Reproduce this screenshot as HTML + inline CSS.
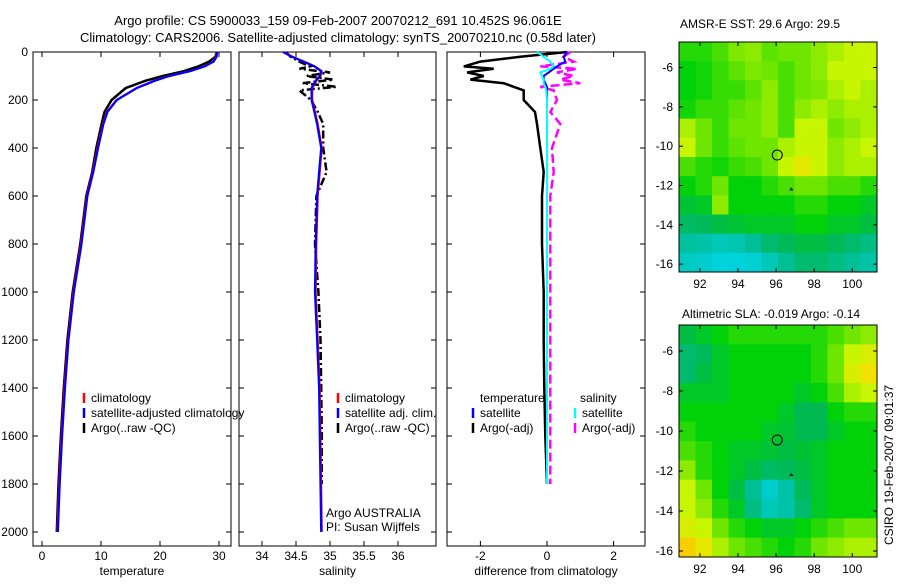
<!DOCTYPE html>
<html><head><meta charset="utf-8"><style>
body{margin:0;background:#fff;}
svg text{font-family:"Liberation Sans",sans-serif;font-size:12px;fill:#000;}
</style></head><body>
<svg id="c" width="900" height="580" xmlns="http://www.w3.org/2000/svg">
<text x="338" y="25" text-anchor="middle" style="font-size:13px">Argo profile: CS 5900033_159 09-Feb-2007 20070212_691 10.452S 96.061E</text>
<text x="338" y="42" text-anchor="middle" style="font-size:13px">Climatology: CARS2006. Satellite-adjusted climatology: synTS_20070210.nc (0.58d later)</text>
<text x="680" y="28">AMSR-E SST: 29.6 Argo: 29.5</text>
<text x="682" y="318">Altimetric SLA: -0.019 Argo: -0.14</text>
<text transform="translate(893,545) rotate(-90)">CSIRO 19-Feb-2007 09:01:37</text>
</svg>
<script>
// ---- data ----
const depth=[0,20,40,60,80,100,120,150,200,250,300,400,500,600,800,1000,1200,1400,1600,1800,2000];
const tempClim=[29.6,29.5,29.0,27.5,25.0,21.5,19.0,16.0,12.6,11.0,10.3,9.4,8.6,7.6,6.6,5.3,4.4,3.8,3.3,2.9,2.6];
const tempArgo=[29.6,29.4,28.3,26.5,24.0,20.5,17.5,14.2,11.8,10.6,10.1,9.2,8.5,7.5,6.5,5.2,4.3,3.7,3.2,2.8,2.5];
const salClim=[34.32,34.45,34.62,34.78,34.88,34.86,34.8,34.74,34.74,34.78,34.82,34.88,34.85,34.82,34.8,34.79,34.82,34.85,34.86,34.87,34.88];
const argoDepth=[0,20,40,60,70,85,100,115,130,145,160,200,250,300,400,500,600,800,1000,1200,1400,1600,1800];
const salArgo=[34.35,34.42,34.55,34.7,34.55,35.0,34.65,35.05,34.6,35.1,34.55,34.72,34.82,34.9,34.9,34.95,34.8,34.78,34.83,34.86,34.87,34.88,34.88];
const dTempArgo=[0.6,-0.8,-2.0,-2.5,-1.6,-2.4,-1.9,-2.3,-1.3,-1.0,-0.7,-0.7,-0.36,-0.3,-0.2,-0.1,-0.15,-0.15,-0.1,-0.1,-0.08,-0.05,0];
const dTempSat=[0.6,0.5,0.55,0.3,0.2,0.05,-0.1,-0.1,-0.05,0,0,0,0,0,0,0,0,0,0,0,0,0,0];
const dSalSat=[-0.3,-0.1,0.1,0.2,0.1,-0.2,-0.15,-0.1,-0.1,-0.05,-0.02,0,0,0,0,0,0,0,0,0,0,0,0];
const dSalArgo=[0.7,0.5,0.8,-0.2,0.9,0.3,0.8,0.4,1.0,-0.2,0.2,0.3,0.1,0.4,0.15,0.2,0.1,0.1,0.1,0.1,0.1,0.1,0.1];
const tempTicks=[0,10,20,30], salTicks=[34,34.5,35,35.5,36], diffTicks=[-2,0,2], depthTicks=[0,200,400,600,800,1000,1200,1400,1600,1800,2000];
const lonTicks=[92,94,96,98,100], lat1Ticks=[-6,-8,-10,-12,-14,-16], lat2Ticks=[-6,-8,-10,-12,-14,-16];
const sstField=[
[.62,.62,.64,.67,.68,.65,.66,.66,.68,.70,.72,.72],
[.60,.61,.63,.65,.67,.66,.64,.66,.68,.72,.72,.72],
[.60,.61,.63,.63,.65,.68,.64,.66,.67,.70,.72,.70],
[.61,.63,.63,.65,.66,.68,.64,.68,.70,.68,.70,.70],
[.70,.66,.63,.66,.66,.68,.64,.72,.72,.66,.68,.70],
[.72,.66,.63,.65,.66,.66,.70,.72,.72,.68,.70,.72],
[.64,.62,.61,.63,.64,.66,.72,.76,.72,.68,.70,.70],
[.60,.62,.66,.60,.60,.62,.64,.66,.66,.64,.64,.62],
[.57,.58,.68,.60,.60,.60,.60,.62,.62,.60,.60,.58],
[.53,.54,.56,.57,.58,.58,.58,.60,.60,.58,.58,.56],
[.47,.46,.44,.45,.48,.52,.54,.56,.56,.54,.52,.50],
[.43,.42,.40,.39,.41,.44,.48,.52,.52,.50,.48,.46]];
const slaField=[
[.56,.58,.60,.62,.62,.62,.62,.62,.62,.64,.66,.68],
[.52,.54,.58,.60,.60,.60,.60,.60,.62,.66,.72,.74],
[.52,.56,.58,.60,.60,.60,.60,.60,.62,.66,.74,.78],
[.58,.58,.58,.60,.60,.60,.60,.58,.60,.64,.70,.72],
[.60,.60,.60,.60,.60,.60,.58,.55,.55,.60,.62,.62],
[.62,.60,.60,.60,.60,.58,.57,.55,.55,.58,.60,.60],
[.64,.62,.60,.58,.58,.57,.56,.57,.58,.60,.60,.60],
[.68,.62,.60,.58,.56,.53,.54,.56,.58,.60,.60,.60],
[.72,.66,.60,.56,.48,.42,.46,.54,.58,.60,.60,.60],
[.72,.68,.62,.58,.50,.44,.46,.52,.58,.60,.60,.60],
[.74,.72,.66,.62,.60,.58,.58,.60,.62,.64,.66,.66],
[.80,.76,.70,.66,.64,.62,.60,.62,.66,.68,.70,.70]];
const argoLon=96.06, argoLat=-10.45;
// ---- helpers ----
const svg=document.getElementById('c');const NS='http://www.w3.org/2000/svg';
function mk(t,a,p){const e=document.createElementNS(NS,t);for(const k in a)e.setAttribute(k,a[k]);(p||svg).appendChild(e);return e;}
const yD=d=>52+d*0.24;
function panel(name,x0,x1,xs,ticks,lab,showY){
 const g=mk('g',{});
 mk('rect',{x:x0,y:52,width:x1-x0,height:494,fill:'none',stroke:'#000'},g);
 ticks.forEach(t=>{const x=xs(t);mk('line',{x1:x,x2:x,y1:546,y2:541,stroke:'#000'},g);mk('line',{x1:x,x2:x,y1:52,y2:57,stroke:'#000'},g);
  const tx=mk('text',{x:x,y:560,'text-anchor':'middle'},g);tx.textContent=String(t);});
 depthTicks.forEach(d=>{const y=yD(d);mk('line',{x1:x0,x2:x0+5,y1:y,y2:y,stroke:'#000'},g);mk('line',{x1:x1,x2:x1-5,y1:y,y2:y,stroke:'#000'},g);
  if(showY){const tx=mk('text',{x:x0-5,y:y+4,'text-anchor':'end'},g);tx.textContent=String(d);}});
 const l=mk('text',{x:(x0+x1)/2,y:575,'text-anchor':'middle'},g);l.textContent=lab;
 return g;}
function line(g,xs,vals,deps,color,w,dash,name){
 const pts=vals.map((v,i)=>xs(v).toFixed(1)+','+yD(deps[i]).toFixed(1)).join(' ');
 const p=mk('polyline',{points:pts,fill:'none',stroke:color,'stroke-width':w},g);
 if(dash)p.setAttribute('stroke-dasharray',dash);
 
 }
function legend(g,x,y,items){items.forEach((it,i)=>{const yy=y+i*15;mk('line',{x1:x,x2:x,y1:yy-9,y2:yy+1,stroke:it[1],'stroke-width':2.5},g);
 const t=mk('text',{x:x+7,y:yy},g);t.textContent=it[0];});}
// panel 1
const xT=v=>42+v*5.9;
const g1=panel('temperature-panel',33,231,xT,tempTicks,'temperature',true);
line(g1,xT,tempArgo,depth,'#000',2.5,null,'argo-temperature-line');
line(g1,xT,tempClim,depth,'#f00',2,null,'climatology-temperature-line');
line(g1,xT,tempClim.map(v=>v+0.1),depth,'#00f',2.2,null,'satellite-temperature-line');
legend(g1,84,402,[['climatology','#f00'],['satellite-adjusted climatology','#00f'],['Argo(..raw -QC)','#000']]);
// panel 2
const xS=v=>262+(v-34)*68;
const g2=panel('salinity-panel',239,436,xS,salTicks,'salinity',false);
line(g2,xS,salArgo,argoDepth,'#000',2.5,'8,3,2,3','argo-salinity-line');
line(g2,xS,salClim,depth,'#f00',2,null,'climatology-salinity-line');
line(g2,xS,salClim.map(v=>v-0.01),depth,'#00f',2.2,null,'satellite-salinity-line');
legend(g2,338,402,[['climatology','#f00'],['satellite adj. clim.','#00f'],['Argo(..raw -QC)','#000']]);
let t=mk('text',{x:326,y:517},g2);t.textContent='Argo AUSTRALIA';
t=mk('text',{x:326,y:531},g2);t.textContent='PI: Susan Wijffels';
// panel 3
const xDf=v=>547+v*33.3;
const g3=panel('difference-panel',447,645,xDf,diffTicks,'difference from climatology',false);
line(g3,xDf,dTempArgo,argoDepth,'#000',2.5,null,'argo-temperature-diff-line');
line(g3,xDf,dSalArgo,argoDepth,'#f0f',2.5,'9,4','argo-salinity-diff-line');
line(g3,xDf,dTempSat,argoDepth,'#00f',2,null,'satellite-temperature-diff-line');
line(g3,xDf,dSalSat,argoDepth,'#0ff',2,null,'satellite-salinity-diff-line');
t=mk('text',{x:480,y:402},g3);t.textContent='temperature';
t=mk('text',{x:580,y:402},g3);t.textContent='salinity';
legend(g3,473,417,[['satellite','#00f'],['Argo(-adj)','#000']]);
legend(g3,575,417,[['satellite','#0ff'],['Argo(-adj)','#f0f']]);
// maps
function cmap(v){const s=[[.40,0,210,220],[.48,0,190,150],[.55,0,185,80],[.6,0,210,10],[.66,110,230,0],[.72,200,245,0],[.78,245,225,0],[.84,250,170,0]];
 if(v<=s[0][0])return `rgb(${s[0][1]},${s[0][2]},${s[0][3]})`;
 for(let i=1;i<s.length;i++)if(v<=s[i][0]){const f=(v-s[i-1][0])/(s[i][0]-s[i-1][0]);const c=[1,2,3].map(k=>Math.round(s[i-1][k]+f*(s[i][k]-s[i-1][k])));return `rgb(${c})`;}
 const l=s[s.length-1];return `rgb(${l[1]},${l[2]},${l[3]})`;}
function map(name,field,y0,y1,latTop,latBot,ticks){
 const x0=679,x1=877,lonL=90.9,lonR=101.3;
 const xs=v=>x0+(v-lonL)*(x1-x0)/(lonR-lonL), ys=v=>y0+(latTop-v)*(y1-y0)/(latTop-latBot);
 const g=mk('g',{});
 const nr=field.length,nc=field[0].length,dl=(lonR-lonL)/nc,dt=(latTop-latBot)/nr;
 field.forEach((row,r)=>row.forEach((v,c)=>{const x=xs(lonL+c*dl),y=ys(latTop-r*dt);
  const e=mk('rect',{x:x,y:y,width:xs(lonL+(c+1)*dl)-x+0.5,height:ys(latTop-(r+1)*dt)-y+0.5,fill:cmap(v)},g);
  
  }));
 mk('rect',{x:x0,y:y0,width:x1-x0,height:y1-y0,fill:'none',stroke:'#000'},g);
 lonTicks.forEach(l=>{const x=xs(l);mk('line',{x1:x,x2:x,y1:y1,y2:y1-4,stroke:'#000'},g);mk('line',{x1:x,x2:x,y1:y0,y2:y0+4,stroke:'#000'},g);
  const tx=mk('text',{x:x,y:y1+16,'text-anchor':'middle'},g);tx.textContent=String(l);});
 ticks.forEach(l=>{const y=ys(l);mk('line',{x1:x0,x2:x0+4,y1:y,y2:y,stroke:'#000'},g);mk('line',{x1:x1,x2:x1-4,y1:y,y2:y,stroke:'#000'},g);
  const tx=mk('text',{x:x0-6,y:y+4,'text-anchor':'end'},g);tx.textContent=String(l);});
 const c=mk('circle',{cx:xs(argoLon),cy:ys(argoLat),r:5,fill:'none',stroke:'#000'},g);
 
 
 mk('path',{d:`M${xs(96.8)-2},${ys(-12.2)+1} l2,-3 l2,3z`,fill:'#000'},g);}
map('sst-map',sstField,42,272,-4.7,-16.4,lat1Ticks);
map('sla-map',slaField,325,557,-4.7,-16.3,lat2Ticks);
</script>
</body></html>
